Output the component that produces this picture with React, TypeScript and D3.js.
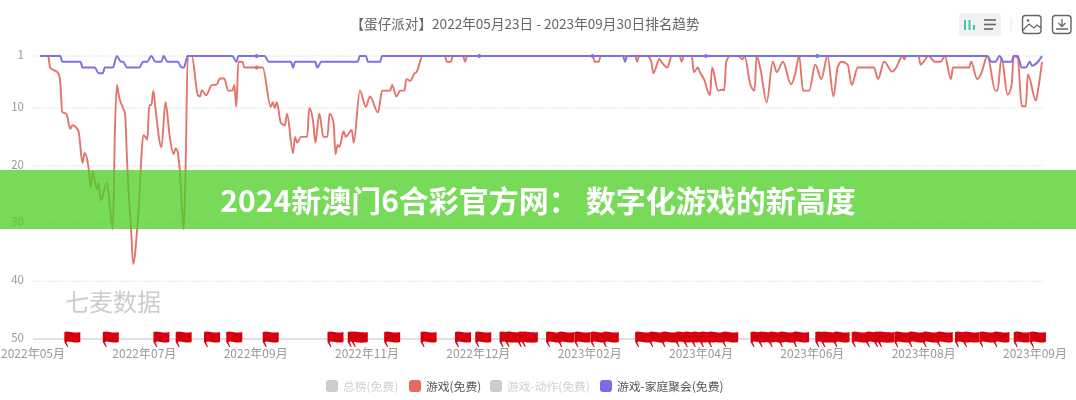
import React, { useEffect, useRef } from "react";
import * as d3 from "d3";

const title = "【蛋仔派对】2022年05月23日 - 2023年09月30日排名趋势";
const bannerText = "2024新澳门6合彩官方网： 数字化游戏的新高度";
const watermark = "七麦数据";
const font = "'Noto Sans CJK SC', 'Noto Sans', sans-serif";

const rankTicks = [1, 10, 20, 30, 40, 50];
const tickDays = [0, 55, 110, 165, 220, 275, 330, 385, 440, 495];
const tickLabels = [
  "2022年05月", "2022年07月", "2022年09月", "2022年11月", "2022年12月",
  "2023年02月", "2023年04月", "2023年06月", "2023年08月", "2023年09月",
];

// days since 2022-05-23
const gameDays = [
  0, 3, 4, 5, 9, 10, 11, 13, 15, 16, 19, 21, 22, 24, 25, 26, 28, 29, 30, 33, 36, 37, 38, 39, 41, 42, 43, 44, 45, 46, 48,
  49, 50, 51, 52, 53, 54, 55, 56, 57, 60, 62, 64, 66, 67, 68, 69, 71, 72, 73, 75, 78, 79, 80, 82, 85, 87, 89, 91, 93,
  95, 96, 97, 98, 100, 101, 110, 114, 115, 116, 117, 119, 121, 122, 125, 126, 127, 129, 132, 133, 135, 136, 138, 140,
  142, 143, 145, 146, 147, 148, 150, 151, 154, 155, 158, 161, 163, 167, 169, 173, 174, 176, 178, 180, 181, 183, 185,
  186, 189, 200, 201, 203, 204, 209, 210, 211, 273, 274, 276, 277, 294, 295, 296, 300, 302, 303, 306, 307, 310, 312,
  316, 317, 318, 322, 323, 325, 326, 328, 331, 332, 335, 337, 338, 339, 341, 345, 347, 348, 351, 353, 354, 356, 359,
  362, 364, 367, 371, 373, 375, 377, 380, 383, 386, 389, 392, 394, 396, 399, 401, 404, 412, 414, 417, 421, 423, 426,
  427, 428, 434, 435, 439, 442, 445, 447, 450, 451, 459, 460, 463, 465, 468, 472, 473, 475, 478, 480, 481, 483, 485,
  487, 488, 492, 493, 495,
];
const gameRanks = [
  1, 1, 1, 3, 4, 5.5, 10.7, 11, 13.6, 13, 14, 19.5, 17.8, 20.4, 23.7, 21, 24, 23, 26, 23, 31, 14, 6, 8, 10, 11, 19, 26, 31, 37, 31,
  26, 19, 14.7, 15, 15.5, 9.5, 9.5, 7, 10, 16.8, 9, 14.7, 18, 17, 17.6, 20.5, 31, 19, 1, 1, 7.8, 8, 6.9, 7.8, 6, 6, 4.9, 4.9, 7,
  7, 6, 9.8, 2, 2, 3, 3, 9.8, 9, 10, 9, 12.6, 13, 11, 17.8, 15, 16, 15, 15, 10, 12.6, 16, 11, 15,
  15, 11, 12.5, 18, 16.4, 16.7, 14, 15, 13.8, 16, 7, 9.8, 8, 10.8, 7, 7, 6, 8, 7, 7, 5, 5.3, 4,
  3.8, 1, 1, 2, 2, 1, 1, 2, 1, 1, 2, 2, 1, 1, 2, 1, 1, 2, 4, 1.5, 2, 3, 1,
  1, 2, 1, 1, 3.8, 3, 3.8, 5, 7.8, 3, 7, 6.8, 7, 2, 1, 1, 1.6, 1, 6, 7, 1, 3.4, 9,
  2, 3.8, 2, 5.9, 4.2, 1, 7, 7, 2.5, 5, 1, 8, 3, 2, 2.5, 6, 3, 3, 5, 2, 3.7, 3, 1,
  1.6, 1, 1, 2.5, 1, 2, 2, 1, 5, 3, 3, 2, 5, 4, 1, 7, 7, 1.3, 7.7, 6, 1, 1.3, 9.7,
  9.7, 4.2, 8.7, 7, 2,
];

const familyDays = [
  0, 10, 11, 20, 21, 27, 29, 31, 32, 36, 38, 40, 41, 43, 49, 51, 53, 55, 57, 60, 61, 63, 68, 70, 71, 73, 95, 97, 98,
  111, 113, 124, 125, 126, 136, 137, 139, 157, 158, 161, 162, 168, 169, 288, 289, 290, 468, 470, 472, 474, 476, 480,
  481, 483, 485, 487, 489, 490, 493, 495,
];
const familyRanks = [
  1, 1, 2, 2, 3, 3, 4, 4, 3, 3, 1, 2, 2, 3, 3, 2, 2, 1, 2, 2, 1, 2, 2, 3, 3, 1, 1, 2, 1,
  1, 2, 2, 3, 2, 2, 3, 2, 2, 1, 1, 2, 2, 1, 1, 2, 1, 1, 2, 2, 1, 2, 2,
  1, 1, 3, 3, 2, 2.7, 2, 1,
];

const familyDotDays = [107, 217, 273, 329, 384];
const familyDotRanks = [1, 1, 1, 1, 1];
const gameDotDays = [107];
const gameDotRanks = [3];

const flagDays = [
  14, 33, 58, 69, 83, 94, 112, 144, 154, 156, 172, 190, 207, 217, 229, 232, 238, 240, 252, 258, 266, 274, 280, 296,
  303, 309, 316, 320, 324, 328, 332, 339, 353, 357, 362, 367, 374, 385, 388, 394, 403, 410, 414, 416, 424, 431, 438,
  445, 454, 458, 466, 473, 483, 491,
];

const legendNames = ["总榜(免费)", "游戏(免费)", "游戏-动作(免费)", "游戏-家庭聚会(免费)"];
const legendColors = ["#cccccc", "#e8695f", "#cccccc", "#7b68ee"];
const legendText = ["#d0d0d0", "#555555", "#d0d0d0", "#555555"];
const legendX = [326, 409, 490, 600];

const width = 1076;
const height = 400;
const flagPath = "M-4,-15 C0,-17 5,-13 12,-15 L12,-5 C5,-3 1,-7 -2,-5 L0,0 L-1,0 L-4,-5 Z";

const App = () => {
  const ref = useRef<SVGSVGElement>(null);

  useEffect(() => {
    const root = d3.select(ref.current);
    root.selectAll("*").remove();

    const defs = root.append("defs");
    defs
      .append("filter")
      .attr("id", "soft")
      .append("feGaussianBlur")
      .attr("stdDeviation", 0.55);

    const x = d3.scaleLinear().domain([0, 495]).range([40, 1042]);
    const y = d3.scaleLinear().domain([1, 50]).range([56, 339]);
    const svg = root.append("g").attr("filter", "url(#soft)");

    svg
      .append("text")
      .text(title)
      .attr("x", 525)
      .attr("y", 29)
      .attr("text-anchor", "middle")
      .attr("font-size", 13.6)
      .attr("fill", "#666")
      .attr("font-family", font);

    // grid + rank labels
    svg
      .selectAll("line.grid")
      .data(rankTicks)
      .enter()
      .append("line")
      .attr("class", "grid")
      .attr("x1", 33)
      .attr("x2", 1043)
      .attr("y1", (d) => y(d))
      .attr("y2", (d) => y(d))
      .attr("stroke", (d) => (d === 50 ? "#c4c4c4" : "#dddddd"))
      .attr("stroke-width", (d) => (d === 50 ? 1.2 : 1))
      .attr("stroke-dasharray", (d) => (d === 50 ? "none" : "1.5 1.5"));
    svg
      .selectAll("text.rank")
      .data(rankTicks)
      .enter()
      .append("text")
      .attr("class", "rank")
      .text((d) => d)
      .attr("x", 24)
      .attr("y", (d) => y(d) + 3)
      .attr("text-anchor", "end")
      .attr("font-size", 11.5)
      .attr("fill", "#999")
      .attr("font-family", font);

    svg
      .selectAll("text.day")
      .data(tickDays)
      .enter()
      .append("text")
      .attr("class", "day")
      .text((_, i) => tickLabels[i])
      .attr("x", (d) => x(d) - 7)
      .attr("y", 358)
      .attr("text-anchor", "middle")
      .attr("font-size", 12)
      .attr("fill", "#999")
      .attr("font-family", font);

    svg
      .append("text")
      .text(watermark)
      .attr("x", 65)
      .attr("y", 311)
      .attr("font-size", 24)
      .attr("fill", "#cccccc")
      .attr("font-family", font);

    const line = d3
      .line<number>()
      .x((d) => x(d))
      .curve(d3.curveMonotoneX);

    svg
      .append("path")
      .attr("d", line.y((_, i) => y(gameRanks[i]))(gameDays))
      .attr("fill", "none")
      .attr("stroke", "#e5736a")
      .attr("stroke-width", 1.9);
    svg
      .append("path")
      .attr("d", line.y((_, i) => y(familyRanks[i]))(familyDays))
      .attr("fill", "none")
      .attr("stroke", "#7d70e2")
      .attr("stroke-width", 2);

    svg
      .selectAll("circle.game")
      .data(gameDotDays)
      .enter()
      .append("circle")
      .attr("class", "game")
      .attr("cx", (d) => x(d))
      .attr("cy", (_, i) => y(gameDotRanks[i]))
      .attr("r", 2)
      .attr("fill", "#e5736a");
    svg
      .selectAll("circle.family")
      .data(familyDotDays)
      .enter()
      .append("circle")
      .attr("class", "family")
      .attr("cx", (d) => x(d))
      .attr("cy", (_, i) => y(familyDotRanks[i]))
      .attr("r", 2)
      .attr("fill", "#7d70e2");

    // event flags sit on the bottom axis
    svg
      .selectAll("path.flag")
      .data(flagDays)
      .enter()
      .append("path")
      .attr("class", "flag")
      .attr("d", flagPath)
      .attr("transform", (d) => `translate(${x(d)},${y(50) + 8})`)
      .attr("fill", "#d4000c");

    const legend = svg
      .selectAll("g.legend")
      .data(legendNames)
      .enter()
      .append("g")
      .attr("class", "legend")
      .attr("transform", (_, i) => `translate(${legendX[i]},380)`);
    legend
      .append("rect")
      .attr("width", 12)
      .attr("height", 12)
      .attr("rx", 3)
      .attr("fill", (_, i) => legendColors[i]);
    legend
      .append("text")
      .text((d) => d)
      .attr("x", 17)
      .attr("y", 10.5)
      .attr("font-size", 11.8)
      .attr("fill", (_, i) => legendText[i])
      .attr("font-family", font);

    // toolbar
    const tools = svg.append("g");
    tools.append("rect").attr("x", 959).attr("y", 13).attr("width", 42).attr("height", 23).attr("rx", 3).attr("fill", "#f1f1f1");
    [[965, 20, 30], [969.5, 20, 30], [974, 25, 30]].forEach(([px, a, b]) =>
      tools.append("line").attr("x1", px).attr("x2", px).attr("y1", a).attr("y2", b).attr("stroke", "#3cc8a8").attr("stroke-width", 2)
    );
    [[984, 996, 20], [984, 996, 24.5], [984, 993, 29]].forEach(([a, b, py]) =>
      tools.append("line").attr("x1", a).attr("x2", b).attr("y1", py).attr("y2", py).attr("stroke", "#666").attr("stroke-width", 1.6)
    );
    tools.append("line").attr("x1", 1011).attr("x2", 1011).attr("y1", 18).attr("y2", 32).attr("stroke", "#e6e6e6");
    [1022.5, 1052.5].forEach((px) =>
      tools.append("rect").attr("x", px).attr("y", 15.5).attr("width", 18.5).attr("height", 18).attr("rx", 3).attr("fill", "none").attr("stroke", "#666").attr("stroke-width", 1.4)
    );
    tools.append("circle").attr("cx", 1028).attr("cy", 20.5).attr("r", 1.3).attr("fill", "#666");
    tools.append("path").attr("d", "M1023,30 L1029,24 L1034,28 L1037,25 L1041,28").attr("fill", "none").attr("stroke", "#666").attr("stroke-width", 1.3);
    tools.append("path").attr("d", "M1062,19 L1062,26 M1058.5,23 L1062,26.5 L1065.5,23 M1056,29 L1068,29").attr("fill", "none").attr("stroke", "#666").attr("stroke-width", 1.3);

    // green banner over the chart
    root.append("rect").attr("x", 0).attr("y", 170).attr("width", width).attr("height", 59).attr("fill", "#4acf22").attr("fill-opacity", 0.75);
    root
      .append("text")
      .text(bannerText)
      .attr("x", 538)
      .attr("y", 212)
      .attr("text-anchor", "middle")
      .attr("font-size", 30)
      .attr("font-weight", 700)
      .attr("fill", "#fff")
      .attr("font-family", font);
  }, []);

  return (
    <svg
      ref={ref}
      width={width}
      height={height}
      style={{ position: "absolute", left: 0, top: 0, background: "#fff" }}
    ></svg>
  );
};

export default App;
